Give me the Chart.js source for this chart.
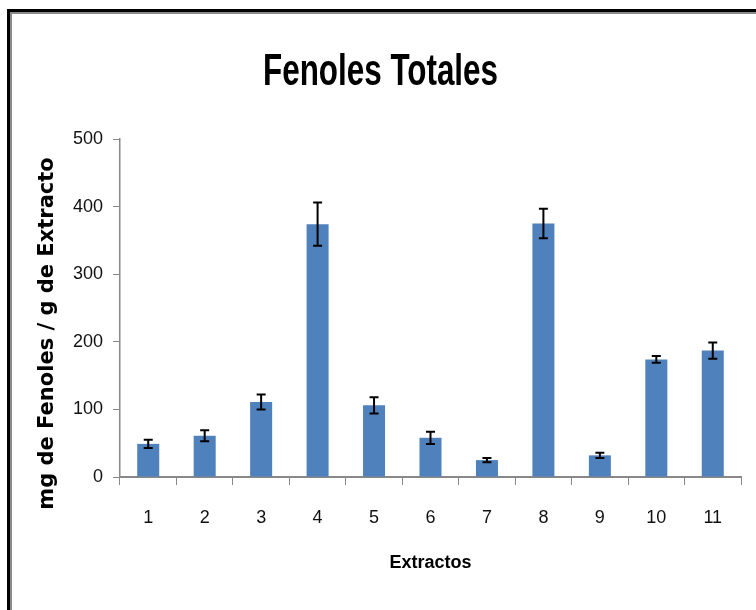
<!DOCTYPE html>
<html>
<head>
<meta charset="utf-8">
<script src="https://cdn.jsdelivr.net/npm/chart.js@4.4.1/dist/chart.umd.min.js"></script>
<style>
  html, body { margin: 0; padding: 0; background: #fff; overflow: hidden; }
  #wrap { position: relative; width: 756px; height: 610px; overflow: hidden; }
  #frame { position: absolute; left: 7px; top: 9px; width: 900px; height: 800px;
           border-left: 3px solid #000; border-top: 3px solid #000;
           box-shadow: inset 2px 2px 0 #8a8a8a; }
  canvas { position: absolute; left: 0; top: 0; }
</style>
</head>
<body>
<div id="wrap">
  <div id="frame"></div>
  <canvas id="c" width="756" height="610"></canvas>
</div>
<script>
const categories = ["1","2","3","4","5","6","7","8","9","10","11"];
const values = [49, 61, 111, 374, 106, 58, 25, 375, 32, 174, 187];
const errors = [6, 8, 11, 32, 12, 9, 3, 22, 4, 5, 12];
const yTicks = [0, 100, 200, 300, 400, 500];
const titleText = "Fenoles Totales";
const yTitleText = "mg de Fenoles / g de Extracto";
const xTitleText = "Extractos";

const errorBars = {
  id: 'errorBars',
  afterDatasetsDraw(chart) {
    const ctx = chart.ctx;
    const ys = chart.scales.y;
    const meta = chart.getDatasetMeta(0);
    ctx.save();
    ctx.strokeStyle = '#000';
    ctx.lineWidth = 2;
    meta.data.forEach((bar, i) => {
      const v = values[i], e = errors[i];
      const top = ys.getPixelForValue(v + e);
      const bot = ys.getPixelForValue(v - e);
      const x = bar.x;
      const cw = 4.5;
      ctx.beginPath();
      ctx.moveTo(x, top); ctx.lineTo(x, bot);
      ctx.moveTo(x - cw, top); ctx.lineTo(x + cw, top);
      ctx.moveTo(x - cw, bot); ctx.lineTo(x + cw, bot);
      ctx.stroke();
    });
    ctx.restore();
  }
};

// Draws text squeezed along its run to a target length (the reference uses a narrow face)
function fitText(ctx, text, font, targetLen) {
  ctx.font = font;
  const w = ctx.measureText(text).width;
  const s = Math.min(1, targetLen / w);
  ctx.scale(s, 1);
  ctx.fillText(text, 0, 0);
}

const titles = {
  id: 'titles',
  afterDraw(chart) {
    const ctx = chart.ctx;
    // chart title
    ctx.save();
    ctx.translate(380.5, 85);
    ctx.fillStyle = '#000';
    ctx.textAlign = 'center';
    ctx.textBaseline = 'alphabetic';
    fitText(ctx, titleText, 'bold 44px "Liberation Sans", Arial, sans-serif', 235);
    ctx.restore();
    // y axis title
    ctx.save();
    ctx.translate(53, 333.5);
    ctx.rotate(-Math.PI / 2);
    ctx.fillStyle = '#000';
    ctx.textAlign = 'center';
    ctx.textBaseline = 'alphabetic';
    fitText(ctx, yTitleText, 'bold 21px "DejaVu Sans", sans-serif', 362);
    ctx.restore();
  }
};

new Chart(document.getElementById('c'), {
  type: 'bar',
  data: {
    labels: categories,
    datasets: [{
      data: values,
      backgroundColor: '#4F81BD',
      borderWidth: 0,
      barPercentage: 0.39,
      categoryPercentage: 1.0
    }]
  },
  options: {
    responsive: false,
    animation: false,
    devicePixelRatio: 1,
    layout: { padding: { left: 0, right: 15, top: 139, bottom: 0 } },
    plugins: {
      legend: { display: false },
      tooltip: { enabled: false },
      title: { display: false }
    },
    scales: {
      x: {
        grid: { display: true, drawOnChartArea: false, drawTicks: true, tickLength: 8, color: '#888', offset: true },
        border: { display: true, color: '#888', width: 2 },
        ticks: { color: '#111', font: { family: '"Liberation Sans", Arial, sans-serif', size: 18 }, padding: 22, maxRotation: 0 },
        title: { display: true, text: xTitleText, color: '#000',
                 font: { family: '"Liberation Sans", Arial, sans-serif', size: 18, weight: 'bold', lineHeight: 1.2 },
                 padding: { top: 0, bottom: 36 } },
        afterFit(scale) { scale.height = 133; }
      },
      y: {
        min: 0, max: 500,
        afterBuildTicks(scale) { scale.ticks = yTicks.map(v => ({ value: v })); },
        grid: { display: true, drawOnChartArea: false, drawTicks: true, tickLength: 7, color: '#888' },
        border: { display: true, color: '#888', width: 1.5 },
        ticks: { color: '#111', font: { family: '"Liberation Sans", Arial, sans-serif', size: 18 }, padding: 10 },
        afterFit(scale) { scale.width = 120; }
      }
    }
  },
  plugins: [errorBars, titles]
});
</script>
</body>
</html>
